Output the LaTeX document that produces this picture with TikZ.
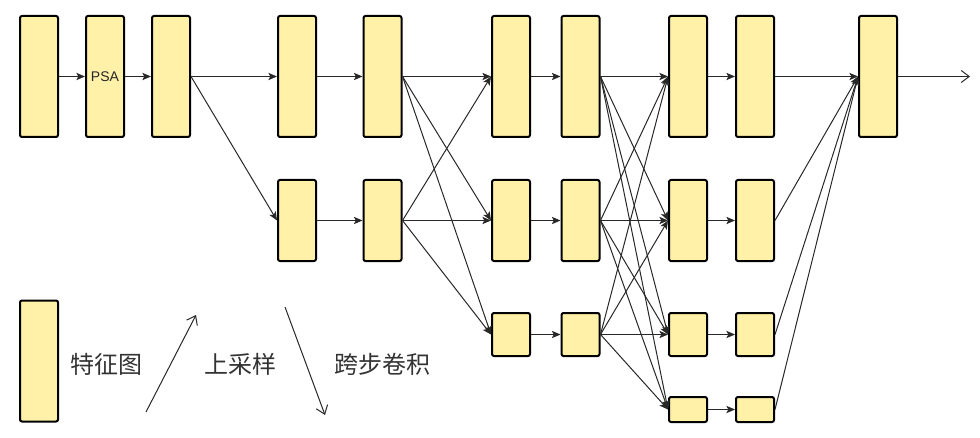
\documentclass[tikz,border=0pt]{standalone}
\usepackage{fontspec}
\setsansfont{Liberation Sans}
\newfontfamily\cjk{Noto Sans CJK SC}
\usetikzlibrary{arrows.meta}

\definecolor{mapfill}{RGB}{255,241,168}
\definecolor{linegray}{RGB}{40,40,40}

\tikzset{every picture/.style={line width=0.75pt}}
\tikzset{
  fmap/.style={draw=black,fill=mapfill,line width=1.5pt,rounded corners=1.5pt,inner sep=0pt,minimum width=28.5pt},
  tall/.style={fmap,minimum height=90.75pt},
  mid/.style={fmap,minimum height=60.75pt},
  low/.style={fmap,minimum height=32.25pt},
  flat/.style={fmap,minimum height=18.75pt},
  link/.style={draw=linegray,line width=0.75pt,-{Stealth[length=6.5pt,width=5.5pt,inset=1.5pt]}},
  openlink/.style={draw=linegray,line width=0.75pt,-{Straight Barb[length=6pt,width=9pt]}},
  legend/.style={font=\cjk\fontsize{18}{21}\selectfont,text=black!80,inner sep=0.75pt}
}

\begin{document}
\begin{tikzpicture}[x=0.75pt,y=0.75pt,yscale=-1,xscale=1]
\useasboundingbox (0,0) rectangle (980,438);

%Shape: Rectangle (first row)
\node (n11) at (39,76.5) [tall] {};
\node (n21) at (105,76.5) [tall,font=\sffamily\fontsize{10.5}{12}\selectfont,text=black!85] {PSA};
\node (n31) at (171,76.5) [tall] {};
\node (n41) at (297,76.5) [tall] {};
\node (n51) at (382.5,76.5) [tall] {};
\node (n61) at (511,76.5) [tall] {};
\node (n71) at (580.5,76.5) [tall] {};
\node (n81) at (688,76.5) [tall] {};
\node (n91) at (755,76.5) [tall] {};
\node (n101) at (878,76.5) [tall] {};
%Shape: Rectangle (second row)
\node (n42) at (297,220.5) [mid] {};
\node (n52) at (382.5,220.5) [mid] {};
\node (n62) at (511,220.5) [mid] {};
\node (n72) at (580.5,220.5) [mid] {};
\node (n82) at (688,220.5) [mid] {};
\node (n92) at (755,220.5) [mid] {};
%Shape: Rectangle (third row)
\node (n63) at (511,334.5) [low] {};
\node (n73) at (580.5,334.5) [low] {};
\node (n83) at (688,334.5) [low] {};
\node (n93) at (755,334.5) [low] {};
%Shape: Rectangle (fourth row)
\node (n84) at (688,409.5) [flat] {};
\node (n94) at (755,409.5) [flat] {};

%Straight Lines (stem)
\draw [link] (n11.east) -- (n21.west);
\draw [link] (n21.east) -- (n31.west);
\draw [link] (n31.east) -- (n41.west);
\draw [link] (n31.east) -- (n42.west);
\draw [link] (n41.east) -- (n51.west);
\draw [link] (n42.east) -- (n52.west);

%Straight Lines (first fusion)
\draw [link] (n51.east) -- (n61.west);
\draw [link] (n51.east) -- (n62.west);
\draw [link] (n51.east) -- (n63.west);
\draw [link] (n52.east) -- (n61.west);
\draw [link] (n52.east) -- (n62.west);
\draw [link] (n52.east) -- (n63.west);
\draw [link] (n61.east) -- (n71.west);
\draw [link] (n62.east) -- (n72.west);
\draw [link] (n63.east) -- (n73.west);

%Straight Lines (second fusion)
\draw [link] (n71.east) -- (n81.west);
\draw [link] (n71.east) -- (n82.west);
\draw [link] (n71.east) -- (n83.west);
\draw [link] (n71.east) -- (n84.west);
\draw [link] (n72.east) -- (n81.west);
\draw [link] (n72.east) -- (n82.west);
\draw [link] (n72.east) -- (n83.west);
\draw [link] (n72.east) -- (n84.west);
\draw [link] (n73.east) -- (n81.west);
\draw [link] (n73.east) -- (n82.west);
\draw [link] (n73.east) -- (n83.west);
\draw [link] (n73.east) -- (n84.west);
\draw [link] (n81.east) -- (n91.west);
\draw [link] (n82.east) -- (n92.west);
\draw [link] (n83.east) -- (n93.west);
\draw [link] (n84.east) -- (n94.west);

%Straight Lines (output)
\draw [link] (n91.east) -- (n101.west);
\draw [link] (n92.east) -- (n101.west);
\draw [link] (n93.east) -- (n101.west);
\draw [link] (n94.east) -- (n101.west);
\coordinate (out) at (970,76.5);
\draw [openlink] (n101.east) -- (out);

%Legend
\node (key) at (39,361) [fmap,minimum height=90.75pt] {};
% Text Node
\node (keymap) at (106,364) [legend] {特征图};
\coordinate (upfrom) at (146,412);
\coordinate (upto) at (196,315);
\draw [openlink] (upfrom) -- (upto);
% Text Node
\node (keyup) at (240,364) [legend] {上采样};
\coordinate (downfrom) at (285,307);
\coordinate (downto) at (325,415);
\draw [openlink] (downfrom) -- (downto);
% Text Node
\node (keydown) at (382,364) [legend] {跨步卷积};

\end{tikzpicture}
\end{document}
